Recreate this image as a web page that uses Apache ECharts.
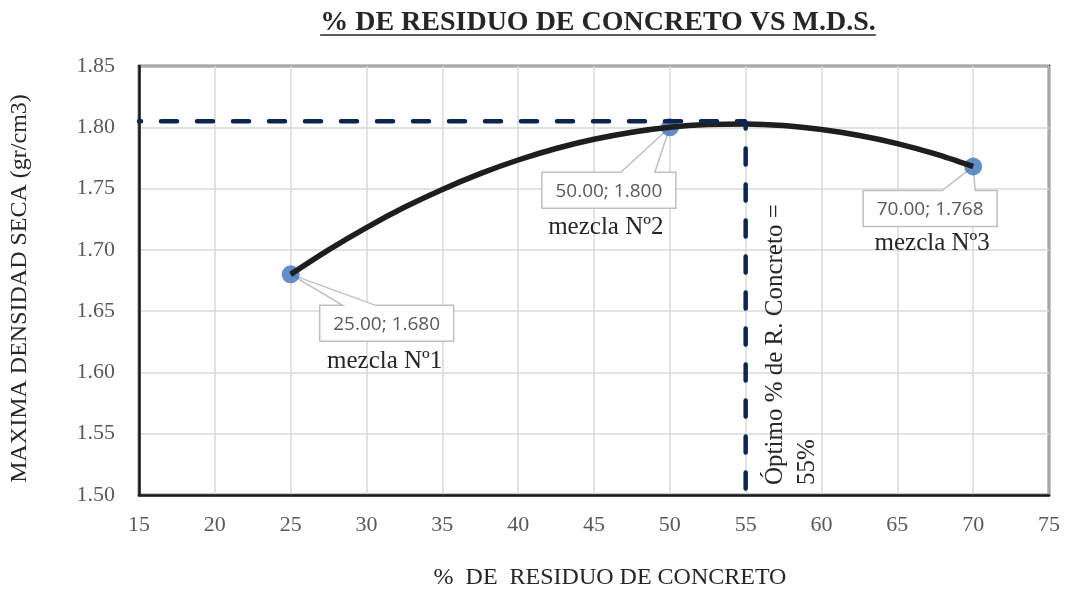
<!DOCTYPE html>
<html><head><meta charset="utf-8">
<script src="https://cdn.jsdelivr.net/npm/echarts@6/dist/echarts.min.js"></script>
<style>html,body{margin:0;padding:0;background:#fff}#c{width:1066px;height:591px}</style>
</head><body><div id="c"></div>
<script>
// ---- data ----
const chartTitle = '% DE RESIDUO DE CONCRETO VS M.D.S.';
const xAxisTitle = '%  DE  RESIDUO DE CONCRETO';
const yAxisTitle = 'MAXIMA DENSIDAD SECA (gr/cm3)';
const mixX = [25, 50, 70];
const mixY = [1.680, 1.800, 1.768];
const mixNames = ['mezcla Nº1', 'mezcla Nº2', 'mezcla Nº3'];
// trend curve
const trendX = [25, 27.5, 30, 32.5, 35, 37.5, 40, 42.5, 45, 47.5, 50, 52.5, 55, 57.5, 60, 62.5, 65, 67.5, 70];
const trendY = [1.6800, 1.7000, 1.7182, 1.7347, 1.7493, 1.7622, 1.7733, 1.7827, 1.7902, 1.7960, 1.8000,
                1.8022, 1.8027, 1.8014, 1.7982, 1.7933, 1.7867, 1.7783, 1.7680];
const optimoX = [15, 55, 55];
const optimoY = [1.805, 1.805, 1.50];
const optimoText = ['Óptimo % de R. Concreto =', '55%'];
const xMin = 15, xMax = 75, xStep = 5;
const yMin = 1.50, yMax = 1.85, yStep = 0.05;

// ---- layout (pixel offsets of annotations) ----
const calloutLayout = [
  {dx: 96, dy: 49, wa: -44, wb: -11, mx: 94, my: 87},
  {dx: -61, dy: 63, wa: 12, wb: 46, mx: -64, my: 100},
  {dx: -43, dy: 42, wa: 12, wb: 45, mx: -41, my: 77}
];
const SERIF = '"Liberation Serif", "Times New Roman", serif';

const chart = echarts.init(document.getElementById('c'), null, {renderer: 'canvas'});

const ctx = document.createElement('canvas').getContext('2d');
ctx.font = 'bold 28px ' + SERIF;
const titleW = ctx.measureText(chartTitle).width;
const titleCx = 598;

const option = {
  animation: false,
  backgroundColor: '#fff',
  grid: {left: 139, right: 17, top: 66, bottom: 96, containLabel: false, outerBoundsMode: 'none',
         show: true, borderColor: '#1a1a1a', borderWidth: 2.5},
  graphic: [
    {type: 'text', x: titleCx, y: 23, style: {text: chartTitle, font: 'bold 28px ' + SERIF, fill: '#262626', align: 'center', verticalAlign: 'middle'}},
    {type: 'line', shape: {x1: titleCx - titleW / 2, y1: 35, x2: titleCx + titleW / 2, y2: 35}, style: {stroke: '#262626', lineWidth: 1.5}}
  ],
  xAxis: {
    type: 'value', min: xMin, max: xMax, interval: xStep,
    name: xAxisTitle, nameLocation: 'middle', nameGap: 71,
    nameTextStyle: {fontFamily: SERIF, fontSize: 24, color: '#262626', padding: [0, 0, 0, 32]},
    axisLine: {show: true, lineStyle: {color: '#1a1a1a', width: 2.5}},
    axisTick: {show: false},
    axisLabel: {fontFamily: SERIF, fontSize: 22, color: '#595959', margin: 19},
    splitLine: {show: true, lineStyle: {color: '#d9d9d9', width: 1.5}}
  },
  yAxis: {
    type: 'value', min: yMin, max: yMax, interval: yStep,
    name: yAxisTitle, nameLocation: 'middle', nameGap: 107, nameRotate: 90,
    nameTextStyle: {fontFamily: SERIF, fontSize: 24, color: '#262626', padding: [0, 16, 0, 0]},
    axisLine: {show: true, lineStyle: {color: '#1a1a1a', width: 2.5}},
    axisTick: {show: false},
    axisLabel: {fontFamily: SERIF, fontSize: 22, color: '#595959', margin: 24, formatter: v => v.toFixed(2)},
    splitLine: {show: true, lineStyle: {color: '#d9d9d9', width: 1.5}}
  },
  series: [
    {
      type: 'custom', z: 2,
      data: mixX.map((x, i) => [x, mixY[i]]),
      renderItem: (params, api) => {
        const i = params.dataIndex;
        const vx = api.value(0), vy = api.value(1);
        const p = api.coord([vx, vy]);
        const L = calloutLayout[i];
        const cx = p[0] + L.dx, cy = p[1] + L.dy, w = 134, h = 36;
        const l = cx - w / 2, r = cx + w / 2, t = cy - h / 2, b = cy + h / 2;
        return {type: 'group', children: [
          {type: 'polygon', shape: {points: [[l, t], [cx + L.wa, t], p, [cx + L.wb, t], [r, t], [r, b], [l, b]]},
           style: {fill: '#fff', stroke: '#bfbfbf', lineWidth: 1.5}},
          {type: 'text', x: cx, y: cy + 1, style: {text: vx.toFixed(2) + '; ' + vy.toFixed(3), align: 'center', verticalAlign: 'middle', font: '19px "Open Sans"', fill: '#595959'}},
          {type: 'text', x: p[0] + L.mx, y: p[1] + L.my, style: {text: mixNames[i], align: 'center', verticalAlign: 'middle', font: '25px ' + SERIF, fill: '#262626'}}
        ]};
      }
    },
    {
      type: 'scatter', z: 3, symbolSize: 18,
      itemStyle: {color: '#3f73ba'},
      data: mixX.map((x, i) => [x, mixY[i]])
    },
    {
      type: 'line', z: 4, smooth: 0.3, showSymbol: false,
      lineStyle: {color: '#1e1e1e', width: 5.5},
      data: trendX.map((x, i) => [x, trendY[i]])
    },
    {
      type: 'line', z: 5, showSymbol: false,
      lineStyle: {color: '#0c2650', width: 4.5, type: [16, 20], dashOffset: 14, cap: 'round'},
      data: optimoX.map((x, i) => [x, optimoY[i]])
    },
    {
      type: 'custom', z: 6,
      data: [[optimoX[2], optimoY[2]]],
      renderItem: (params, api) => {
        const p = api.coord([api.value(0), api.value(1)]);
        return {type: 'text', x: p[0] + 14, y: p[1] - 10, rotation: Math.PI / 2,
          style: {text: optimoText.join('\n'), font: '25px ' + SERIF, lineHeight: 32, align: 'left', verticalAlign: 'top', fill: '#262626'}};
      }
    }
  ]
};
chart.setOption(option);
</script>
</body></html>
